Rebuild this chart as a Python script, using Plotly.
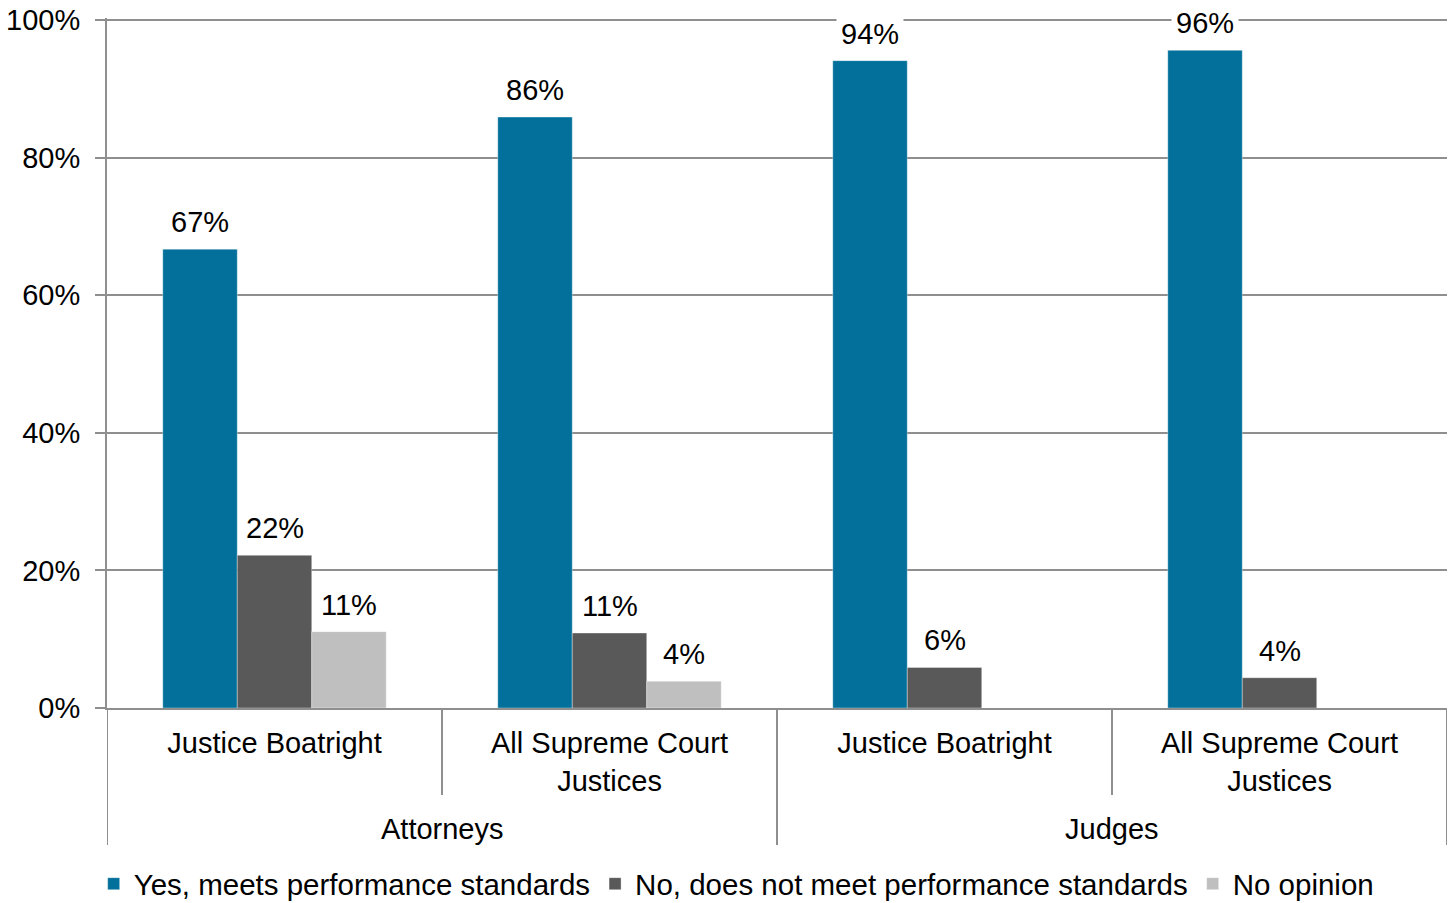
import plotly.graph_objects as go

groups = ["Attorneys", "Judges"]
subjects = ["Justice Boatright", "All Supreme Court<br>Justices", "Justice Boatright", "All Supreme Court<br>Justices"]
subject_group = [0, 0, 1, 1]
series_names = ["Yes, meets performance standards", "No, does not meet performance standards", "No opinion"]
yes_vals = [0.667, 0.859, 0.941, 0.956]
no_vals = [0.222, 0.109, 0.059, 0.044]
noop_vals = [0.111, 0.039, None, None]
colors = ["#02709A", "#595959", "#BFBFBF"]
y_ticks = [0, 0.2, 0.4, 0.6, 0.8, 1.0]

series = [yes_vals, no_vals, noop_vals]
FONT = "Liberation Sans, Arial, sans-serif"
FS = 29
GRID = "#8f8f8f"
bargap = 0.333
nser = len(series)
bw = (1 - bargap) / nser
xpos = list(range(len(subjects)))

W, H = 1453, 903
M = dict(l=107, r=6, t=18, b=195)
plot_h = H - M["t"] - M["b"]

fig = go.Figure()
for name, vals, col in zip(series_names, series, colors):
    fig.add_trace(go.Bar(
        x=xpos, y=vals, name=name,
        marker=dict(color=col, line=dict(width=0.6, color="rgba(255,255,255,0.6)")),
    ))

annotations = []
for j, vals in enumerate(series):
    for i, v in enumerate(vals):
        if v is None:
            continue
        annotations.append(dict(
            x=i + (j - (nser - 1) / 2) * bw, y=v, xref="x", yref="y",
            text=f"{round(v * 100):.0f}%", showarrow=False,
            yanchor="bottom", xanchor="center", yshift=6,
            bgcolor="white", borderpad=4,
            font=dict(family=FONT, size=FS, color="black"),
        ))

# outer group labels and dividers
shapes = []
for g, gname in enumerate(groups):
    members = [i for i, sg in enumerate(subject_group) if sg == g]
    mid = (members[0] + members[-1]) / 2
    annotations.append(dict(
        x=mid, y=-121 / plot_h, xref="x", yref="paper", text=gname, showarrow=False,
        yanchor="middle", xanchor="center", font=dict(family=FONT, size=FS, color="black"),
    ))
bounds = [-0.5] + [i + 0.5 for i in range(len(subjects) - 1) if subject_group[i] != subject_group[i + 1]] + [len(subjects) - 0.5]
for b in bounds:
    shapes.append(dict(type="line", xref="x", yref="paper", x0=b, x1=b, y0=0, y1=-137 / plot_h,
                       line=dict(color=GRID, width=2), layer="above"))
inner_bounds = [i + 0.5 for i in range(len(subjects) - 1) if subject_group[i] == subject_group[i + 1]]

fig.update_layout(
    width=W, height=H,
    margin=M,
    plot_bgcolor="white", paper_bgcolor="white",
    barmode="group", bargap=bargap, bargroupgap=0,
    font=dict(family=FONT, size=FS, color="black"),
    annotations=annotations, shapes=shapes,
    legend=dict(orientation="h", xref="container", x=0.507, xanchor="center",
                yref="container", y=1 - 884 / H, yanchor="middle",
                bgcolor="rgba(0,0,0,0)",
                font=dict(family=FONT, size=29.5, color="black"),
                itemwidth=30, traceorder="normal"),
    xaxis=dict(range=[-0.5, len(subjects) - 0.5], tickvals=xpos, ticktext=subjects,
               showline=True, linecolor=GRID, linewidth=2, ticks="",
               minor=dict(tickvals=inner_bounds, ticks="outside", ticklen=85, tickcolor=GRID,
                          tickwidth=2, showgrid=False),
               ticklabelstandoff=8, automargin=False,
               showgrid=False, zeroline=False, tickfont=dict(family=FONT, size=FS, color="black")),
    yaxis=dict(range=[0, 1.003], tickvals=y_ticks, tickformat=".0%",
               showgrid=True, gridcolor=GRID, gridwidth=2, zeroline=False,
               showline=True, linecolor=GRID, linewidth=2,
               ticks="outside", ticklen=10, tickcolor=GRID, tickwidth=2,
               ticklabelstandoff=9, automargin=False, ticklabeloverflow="allow",
               tickfont=dict(family=FONT, size=FS, color="black")),
)

fig.write_html("out.html", config={"displayModeBar": False},
               post_script="document.body.style.margin='0';")
